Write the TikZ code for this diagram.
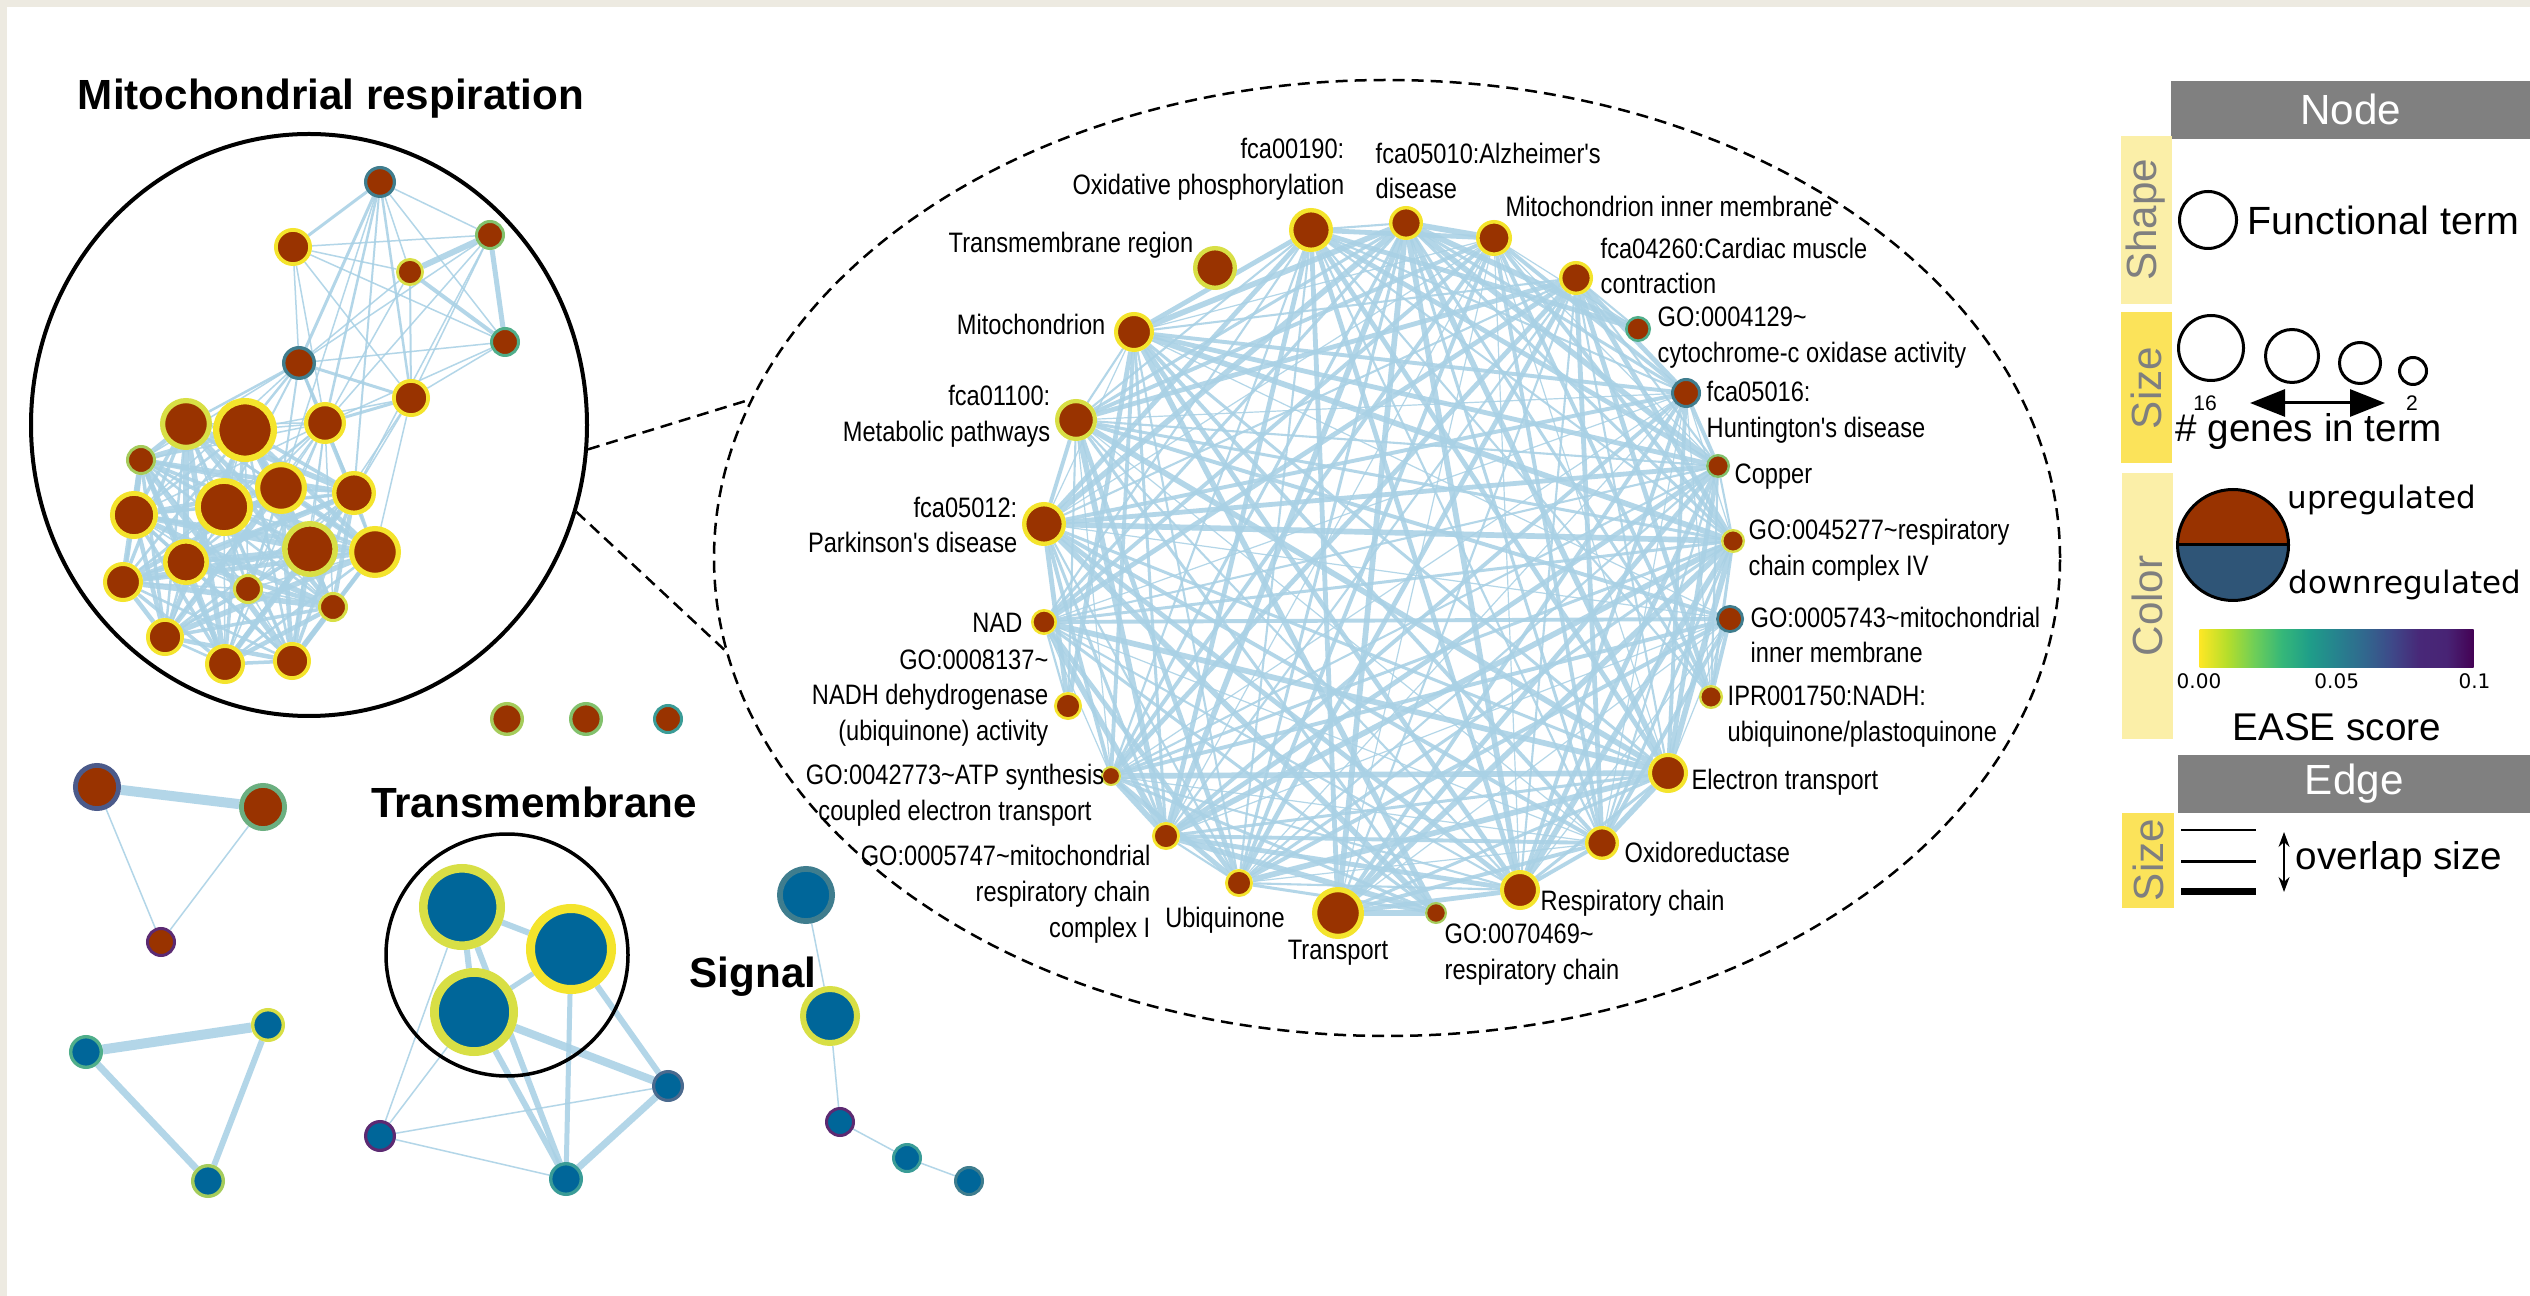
\documentclass[tikz,border=0pt]{standalone}
\usepackage{fontspec}
\setmainfont{Liberation Sans}
\newfontfamily\termfont[FakeStretch=0.84]{Liberation Sans}
\newfontfamily\keyfont{DejaVu Sans}
\usetikzlibrary{shapes.geometric,arrows.meta,positioning}
\definecolor{paper}{HTML}{EDEAE1}
\definecolor{upcol}{HTML}{993300}
\definecolor{downcol}{HTML}{006699}
\definecolor{keydown}{HTML}{2F5577}
\definecolor{linkblue}{HTML}{A9D1E5}
\definecolor{headgray}{HTML}{808080}
\definecolor{tabtext}{HTML}{7F7F7F}
\definecolor{tablight}{HTML}{FBEFA8}
\definecolor{tabbright}{HTML}{FBE35A}
\definecolor{vy}{HTML}{F4E42C}
\definecolor{vyg}{HTML}{D8DF45}
\definecolor{vlg}{HTML}{A5CC5B}
\definecolor{vg}{HTML}{82C16C}
\definecolor{vtg}{HTML}{4FAE8A}
\definecolor{vtg2}{HTML}{6BAF80}
\definecolor{vt}{HTML}{3A9C97}
\definecolor{vtb}{HTML}{3F7D8E}
\definecolor{vsl}{HTML}{4B6A8E}
\definecolor{vsb}{HTML}{4B5A8A}
\definecolor{vp}{HTML}{5C2A72}
\definecolor{vir0}{HTML}{FDE725}
\definecolor{vir1}{HTML}{B5DE2B}
\definecolor{vir2}{HTML}{6ECE58}
\definecolor{vir3}{HTML}{35B779}
\definecolor{vir4}{HTML}{1F9E89}
\definecolor{vir5}{HTML}{26828E}
\definecolor{vir6}{HTML}{31688E}
\definecolor{vir7}{HTML}{3E4989}
\definecolor{vir8}{HTML}{482878}
\definecolor{vir9}{HTML}{482475}
\definecolor{vir10}{HTML}{440154}
\pgfdeclarehorizontalshading{easebar}{100bp}{color(0bp)=(vir0); color(25bp)=(vir0); color(30bp)=(vir1); color(35bp)=(vir2); color(40bp)=(vir3); color(45bp)=(vir4); color(50bp)=(vir5); color(55bp)=(vir6); color(60bp)=(vir7); color(65bp)=(vir8); color(70bp)=(vir9); color(75bp)=(vir10); color(100bp)=(vir10)}
\pgfdeclarelayer{back}
\pgfdeclarelayer{bg}
\pgfsetlayers{back,bg,main}
\tikzset{
  term/.style n args={3}{circle, inner sep=0pt, minimum size=#1*0.18mm, line width=#1*0.02mm, fill=#2, draw=#3},
  link/.style={draw=linkblue, draw opacity=0.88},
  termlabel/.style={font=\termfont\fontsize{8}{10.2}\selectfont, inner sep=0pt},
  heading/.style={font=\bfseries\fontsize{12}{14.4}\selectfont, inner sep=0pt},
  ring/.style={draw, line width=0.4mm, inner sep=0pt},
  zoomline/.style={dash pattern=on 1.2mm off 0.7mm, line width=0.25mm},
  headbar/.style={fill=headgray, text=white, inner sep=0pt, minimum height=5.8mm, minimum width=36mm, font=\fontsize{12}{14.4}\selectfont},
  tab/.style={fill=#1, text=tabtext, rotate=90, inner sep=0pt, minimum height=5.1mm, font=\fontsize{12}{14.4}\selectfont},
  keycircle/.style={circle, draw, line width=0.3mm, inner sep=0pt},
  keytext/.style={inner sep=0pt, font=\fontsize{11}{13}\selectfont},
  tick/.style={inner sep=0pt, font=\keyfont\fontsize{5.7}{7}\selectfont},
}

\begin{document}
\begin{tikzpicture}[x=0.1mm, y=-0.1mm]%
\useasboundingbox (0,0) rectangle (2530,1296);%
\begin{pgfonlayer}{back}
\fill[paper] (0,0) rectangle (2530,1296);%
\fill[white] (7,7) rectangle (2530,1296);%
\end{pgfonlayer}

\node[heading] (mitotitle) at (331,99) {Mitochondrial respiration};%
\node[ring, ellipse, minimum width=55.6mm, minimum height=58.2mm] (mitoring) at (309,425) {};%
\foreach \n/\x/\y/\r/\c in {1/380/182/16/vtb, 2/293/247/19/vy, 3/490/235/15/vg, 4/410/272/14/vyg,
  5/299/363/17/vtb, 6/505/342/15/vtg, 7/411/398/19/vy, 8/186/424/26/vyg, 9/245/430/32/vy,
  10/325/423/21/vy, 11/141/460/15/vlg, 12/281/488/26/vy, 13/354/493/22/vy, 14/134/515/24/vy,
  15/224/507/29/vy, 16/310/549/28/vyg, 17/375/552/26/vy, 18/186/562/23/vy, 19/123/582/20/vy,
  20/248/589/15/vyg, 21/333/607/15/vyg, 22/165/637/19/vy, 23/225/664/20/vy, 24/292/661/19/vy}
  \node[term={\r}{upcol}{\c}] (a\n) at (\x,\y) {};

\node[draw, ellipse, dash pattern=on 1.2mm off 0.7mm, line width=0.25mm, inner sep=0pt, minimum width=134.6mm, minimum height=95.6mm] (zoomring) at (1387,558) {};%
\draw[zoomline] (mitoring.-5) -- (zoomring.166);%
\draw[zoomline] (mitoring.-18) -- (zoomring.188);%
\foreach \n/\x/\y/\r/\c in {1/1311/230/22/vy, 2/1406/223/17/vy, 3/1494/238/18/vy, 4/1576/278/17/vy,
  5/1638/329/13/vtg, 6/1686/393/15/vtb, 7/1718/466/12/vg, 8/1733/541/12/vyg, 9/1730/619/14/vtb,
  10/1711/697/12/vyg, 11/1668/773/20/vy, 12/1602/843/17/vy, 13/1520/890/20/vy, 14/1436/913/11/vlg,
  15/1338/913/26/vy, 16/1239/883/14/vy, 17/1166/836/14/vy, 18/1111/776/10/vyg, 19/1068/706/14/vy,
  20/1044/622/13/vy, 21/1044/524/22/vy, 22/1076/420/21/vyg, 23/1134/332/20/vy, 24/1215/268/22/vyg}
  \node[term={\r}{upcol}{\c}] (r\n) at (\x,\y) {};

\node[termlabel, anchor=east, align=right] (l1) at (1345,169) {fca00190:\\Oxidative phosphorylation};%
\node[termlabel, anchor=west, align=left] (l2) at (1375,171) {fca05010:Alzheimer's\\disease};%
\node[termlabel, anchor=west] (l3) at (1505,206) {Mitochondrion inner membrane};%
\node[termlabel, anchor=west, align=left] (l4) at (1600,266) {fca04260:Cardiac muscle\\contraction};%
\node[termlabel, anchor=west, align=left] (l5) at (1657,338) {GO:0004129\textasciitilde\\cytochrome-c oxidase activity};%
\node[termlabel, anchor=west, align=left] (l6) at (1706,412) {fca05016:\\Huntington's disease};%
\node[termlabel, anchor=west] (l7) at (1734,477) {Copper};%
\node[termlabel, anchor=west, align=left] (l8) at (1748,550) {GO:0045277\textasciitilde respiratory\\chain complex IV};%
\node[termlabel, anchor=west, align=left] (l9) at (1750,635) {GO:0005743\textasciitilde mitochondrial\\inner membrane};%
\node[termlabel, anchor=west, align=left] (l10) at (1727,717) {IPR001750:NADH:\\ubiquinone/plastoquinone};%
\node[termlabel, anchor=west] (l11) at (1691,782) {Electron transport};%
\node[termlabel, anchor=west] (l12) at (1624,852) {Oxidoreductase};%
\node[termlabel, anchor=west] (l13) at (1540,903) {Respiratory chain};%
\node[termlabel, anchor=west, align=left] (l14) at (1444,955) {GO:0070469\textasciitilde\\respiratory chain};%
\node[termlabel] (l15) at (1338,953) {Transport};%
\node[termlabel] (l16) at (1225,920) {Ubiquinone};%
\node[termlabel, anchor=east, align=right] (l17) at (1151,894) {GO:0005747\textasciitilde mitochondrial\\respiratory chain\\complex I};%
\node[termlabel, align=center] (l18) at (955,795) {GO:0042773\textasciitilde ATP synthesis\\coupled electron transport};%
\node[termlabel, anchor=east, align=right] (l19) at (1049,698) {GO:0008137\textasciitilde\\NADH dehydrogenase\\(ubiquinone) activity};%
\node[termlabel, anchor=east] (l20) at (1023,623) {NAD};%
\node[termlabel, anchor=east, align=right] (l21) at (1018,525) {fca05012:\\Parkinson's disease};%
\node[termlabel, anchor=east, align=right] (l22) at (1051,416) {fca01100:\\Metabolic pathways};%
\node[termlabel, anchor=east] (l23) at (1106,324) {Mitochondrion};%
\node[termlabel, anchor=east] (l24) at (1194,245) {Transmembrane region};%

\node[term={17}{upcol}{vlg}] (d1) at (507,719) {};%
\node[term={17}{upcol}{vg}] (d2) at (586,719) {};%
\node[term={15}{upcol}{vt}] (d3) at (668,719) {};%
\node[term={24}{upcol}{vsb}] (p1) at (97,787) {};%
\node[term={24}{upcol}{vtg2}] (p2) at (263,807) {};%
\node[term={15}{upcol}{vp}] (p3) at (161,942) {};%
\node[term={17}{downcol}{vtg}] (q1) at (86,1052) {};%
\node[term={17}{downcol}{vyg}] (q2) at (268,1025) {};%
\node[term={17}{downcol}{vlg}] (q3) at (208,1181) {};%

\node[heading] (tmtitle) at (534,802) {Transmembrane};%
\node[ring, circle, line width=0.35mm, minimum size=24.2mm] (tmring) at (507,955) {};%
\node[term={43}{downcol}{vyg}] (t1) at (462,907) {};%
\node[term={45}{downcol}{vy}] (t2) at (571,949) {};%
\node[term={44}{downcol}{vyg}] (t3) at (474,1012) {};%
\node[term={16}{downcol}{vsl}] (t4) at (668,1086) {};%
\node[term={16}{downcol}{vp}] (t5) at (380,1136) {};%
\node[term={17}{downcol}{vt}] (t6) at (566,1179) {};%

\node[heading] (sigtitle) at (753,977) {Signal};%
\node[term={29}{downcol}{vtb}] (s1) at (806,895) {};%
\node[term={30}{downcol}{vyg}] (s2) at (830,1016) {};%
\node[term={15}{downcol}{vp}] (s3) at (840,1122) {};%
\node[term={15}{downcol}{vt}] (s4) at (907,1158) {};%
\node[term={15}{downcol}{vtb}] (s5) at (969,1181) {};%

\node[headbar, anchor=north west] (nodehead) at (2170,80) {Node};%
\node[tab=tablight, minimum width=16.8mm] (shapetab) at (2146,220) {Shape};%
\node[keycircle, minimum size=5.7mm] (shapekey) at (2208,220) {};%
\node[keytext, font=\fontsize{11.2}{13}\selectfont, right=0.9mm of shapekey] (shapetext) {Functional term};%
\node[tab=tabbright, minimum width=15.1mm] (sizetab) at (2146,388) {Size};%
\node[keycircle, minimum size=6.5mm] (sz16) at (2211,348) {};%
\node[keycircle, minimum size=5.3mm] (sz11) at (2292,356) {};%
\node[keycircle, minimum size=4.1mm] (sz6) at (2360,363) {};%
\node[keycircle, minimum size=2.7mm] (sz2) at (2413,371) {};%
\node[inner sep=0pt, font=\fontsize{6}{7}\selectfont] (n16) at (2205,403) {16};%
\node[inner sep=0pt, font=\fontsize{6}{7}\selectfont] (n2) at (2412,403) {2};%
\coordinate (szleft) at (2250,403);%
\coordinate (szright) at (2385,403);%
\draw[line width=0.3mm, {Triangle[length=3.5mm,width=2.7mm]}-{Triangle[length=3.5mm,width=2.7mm]}] (szleft) -- (szright);%
\node[keytext, anchor=west] (genetext) at (2175,432) {\# genes in term};%
\node[tab=tablight, minimum width=26.6mm] (colortab) at (2147,606) {Color};%
\node[keycircle, minimum size=11.1mm, path picture={
  \fill[upcol] (path picture bounding box.north west) rectangle (path picture bounding box.east);
  \fill[keydown] (path picture bounding box.west) rectangle (path picture bounding box.south east);}] (regkey) at (2233,545) {};%
\draw[line width=0.3mm] (regkey.west) -- (regkey.east);%
\node[inner sep=0pt, font=\keyfont\fontsize{8.8}{10}\selectfont, anchor=west] (uptext) at (2287,500) {upregulated};%
\node[inner sep=0pt, font=\keyfont\fontsize{8.8}{10}\selectfont, anchor=west] (downtext) at (2288,585) {downregulated};%
\node[shade, shading=easebar, inner sep=0pt, minimum width=27.4mm, minimum height=3.8mm, anchor=north west] (easebar) at (2199,629) {};%
\node[tick, anchor=north] (tk0) at ([yshift=-0.5mm]easebar.south west) {0.00};%
\node[tick, anchor=north] (tk5) at ([yshift=-0.5mm]easebar.south) {0.05};%
\node[tick, anchor=north] (tk10) at ([yshift=-0.5mm]easebar.south east) {0.1};%
\node[keytext, below=4.4mm of easebar] (easetext) {EASE score};%

\node[headbar, anchor=north west, minimum width=35.3mm] (edgehead) at (2177,754) {Edge};%
\node[tab=tabbright, minimum width=9.5mm, minimum height=5.2mm] (edgetab) at (2148,860) {Size};%
\coordinate (w1a) at (2181,830); \coordinate (w1b) at (2256,830);%
\coordinate (w2a) at (2181,861); \coordinate (w2b) at (2256,861);%
\coordinate (w3a) at (2181,891); \coordinate (w3b) at (2256,891);%
\draw[line width=0.13mm] (w1a) -- (w1b);%
\draw[line width=0.3mm] (w2a) -- (w2b);%
\draw[line width=0.7mm] (w3a) -- (w3b);%
\coordinate (ovtop) at (2284,832); \coordinate (ovbot) at (2284,892);%
\draw[line width=0.12mm, {Stealth[length=1.5mm,width=1.1mm]}-{Stealth[length=1.5mm,width=1.1mm]}] (ovtop) -- (ovbot);%
\node[keytext, anchor=west] (overtext) at (2295,860) {overlap size};%

\begin{pgfonlayer}{bg}
\foreach \p/\q/\w in {1/2/3, 1/3/1.5, 1/4/1.5, 1/5/3, 1/6/1.5, 1/7/2.5, 1/10/2.5, 1/13/2, 1/12/1.5,
  2/3/1.5, 2/4/1.5, 2/5/1.5, 2/6/1.5, 2/7/1.5, 2/10/1.5,
  3/4/6, 3/6/5, 3/5/1.5, 3/7/1.5, 3/10/1.5, 3/13/1.5,
  4/5/1.5, 4/6/4, 4/7/2, 4/10/1.5,
  5/6/1.5, 5/7/3, 5/8/2.5, 5/9/2.5, 5/10/3, 5/11/1.5, 5/12/2, 5/13/2, 5/14/1.5, 5/15/2, 5/17/2.5,
  6/7/1.5, 6/10/1.5, 7/10/3, 7/9/1.5, 7/13/1.5, 7/17/1.5, 7/16/1.5}
  \draw[link, line width=\w*0.1mm] (a\p) -- (a\q);
\foreach \i in {8,...,23}{
  \pgfmathtruncatemacro\k{\i+1}
  \foreach \j in {\k,...,24}{
    \pgfmathsetmacro\w{0.15+0.1*mod(\i*\j,5)}
    \draw[link, line width=\w mm] (a\i) -- (a\j);
  }
}
\foreach \i in {1,...,23}{
  \pgfmathtruncatemacro\k{\i+1}
  \foreach \j in {\k,...,24}{
    \pgfmathtruncatemacro\gap{mod(\i*\j+\i,5)}
    \pgfmathsetmacro\w{0.12+0.09*mod(7*\i+3*\j,6)}
    \ifnum\gap>0 \draw[link, line width=\w mm] (r\i) -- (r\j);\fi
  }
}
\draw[link, line width=1mm] (p1) -- (p2);%
\draw[link, line width=0.15mm] (p1) -- (p3);%
\draw[link, line width=0.15mm] (p2) -- (p3);%
\draw[link, line width=1mm] (q1) -- (q2);%
\draw[link, line width=0.7mm] (q1) -- (q3);%
\draw[link, line width=0.6mm] (q2) -- (q3);%
\foreach \p/\q/\w in {t1/t2/6, t1/t3/6, t2/t3/5, t1/t6/6, t3/t6/6, t2/t6/5, t2/t4/6, t3/t4/8,
  t4/t6/7, t5/t1/1.5, t5/t3/1.5, t5/t4/1.5, t5/t6/1.5, s1/s2/1.5, s2/s3/1.5, s3/s4/1.5, s4/s5/1.5}
  \draw[link, line width=\w*0.1mm] (\p) -- (\q);
\end{pgfonlayer}
\end{tikzpicture}
\end{document}
